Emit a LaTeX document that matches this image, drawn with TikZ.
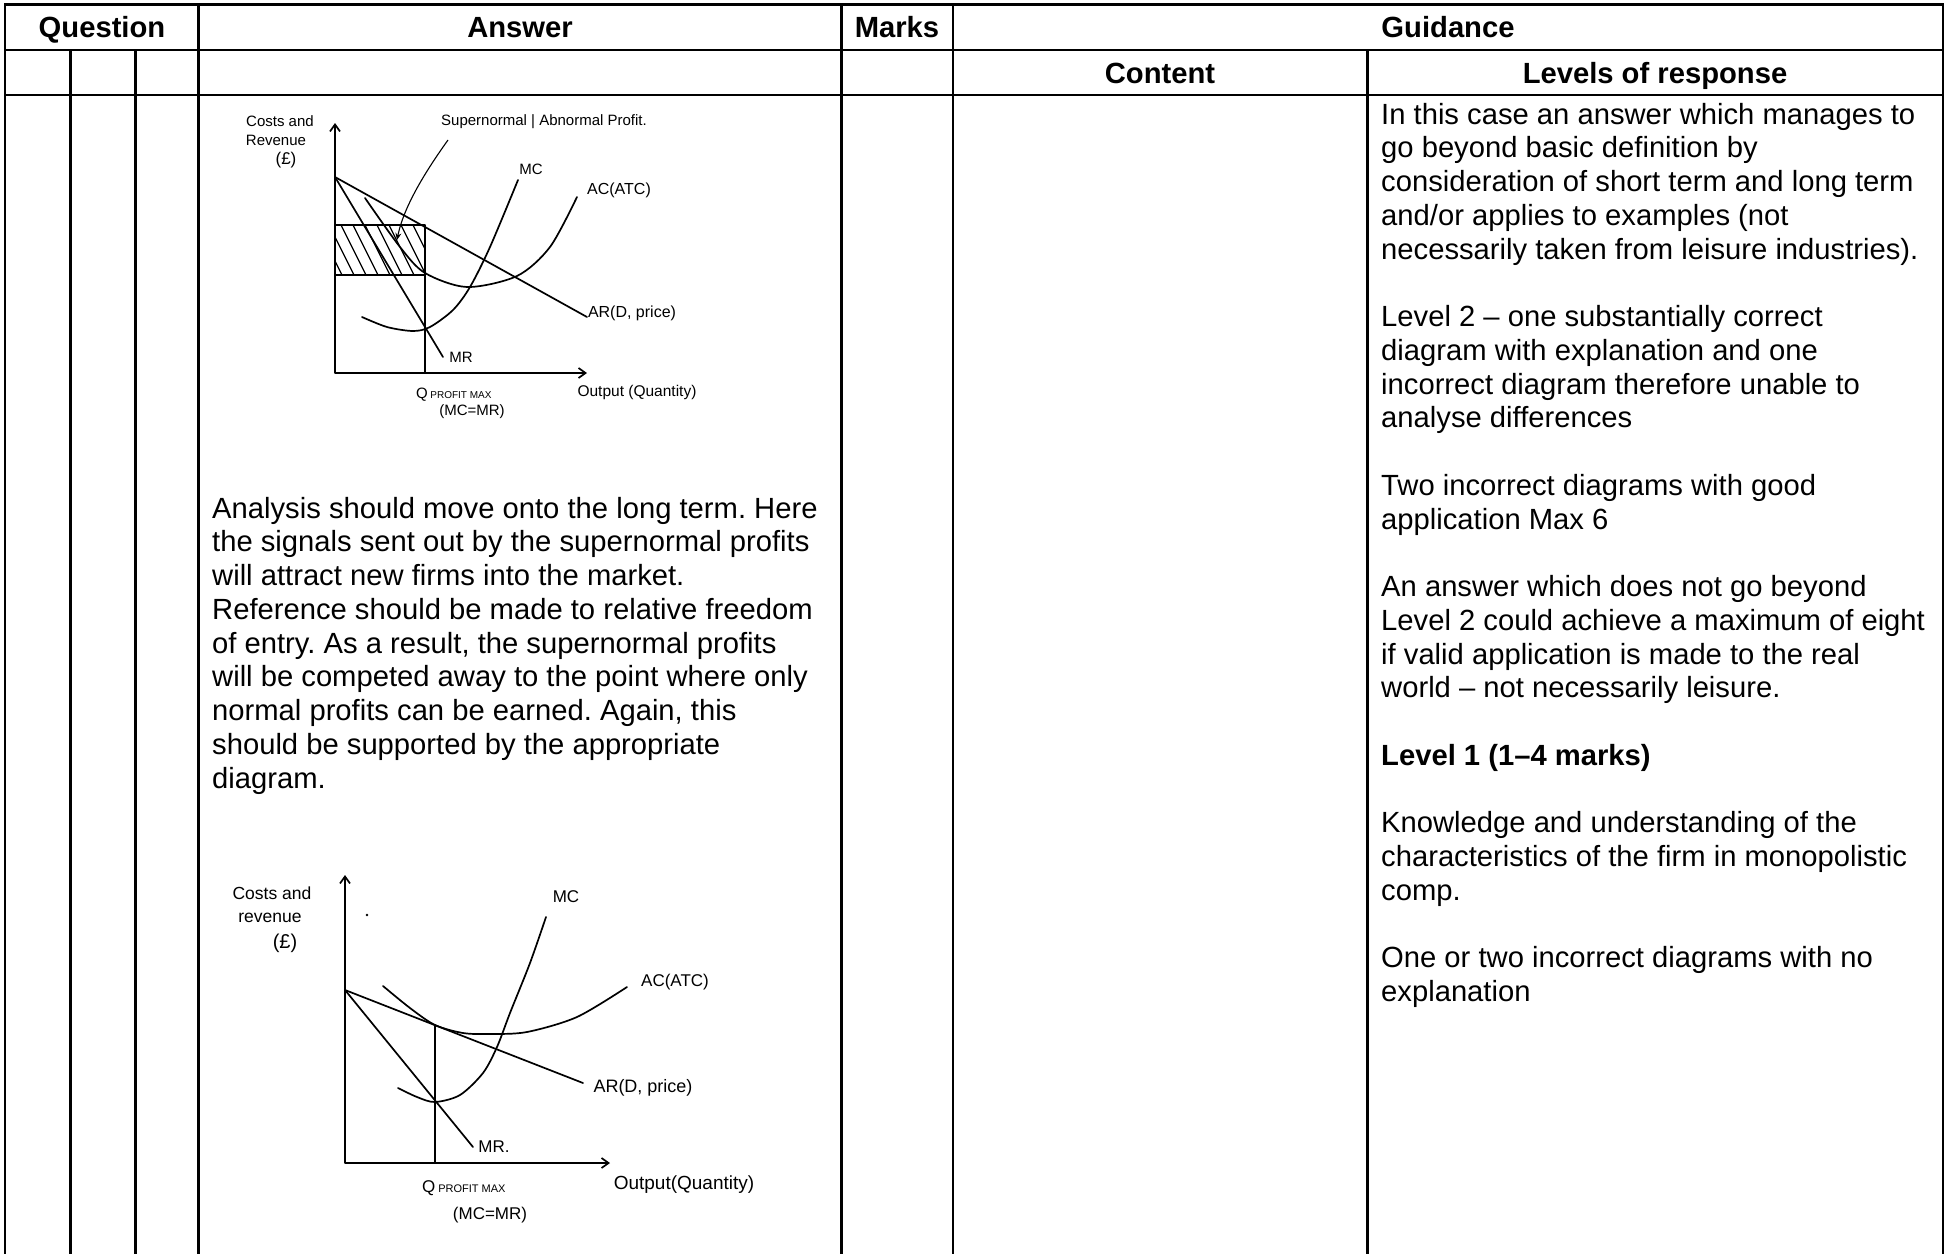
\documentclass[tikz,border=0pt]{standalone}
\usepackage{fontspec}
\setmainfont{Liberation Sans}
\usetikzlibrary{arrows.meta}
\frenchspacing
\begin{document}
\begin{tikzpicture}[x=1pt,y=-1pt,
  grid/.style={line width=2.6pt},
  hdr/.style={font=\fontsize{29.2pt}{33.75pt}\selectfont\bfseries, inner sep=0, anchor=base},
  body/.style={inner sep=0, anchor=base west},
  curve/.style={line width=1.7pt, line cap=round, line join=round},
  axes/.style={curve, {Straight Barb[length=7pt,width=10pt]}-{Straight Barb[length=7pt,width=10pt]}},
  hand/.style={inner sep=0, font=\fontsize{#1}{#1}\selectfont},
  hand/.default=15pt,
]
\useasboundingbox (0,0) rectangle (1946,1253);
% ---------------- table grid ----------------
\draw[grid] (5,1260) -- (5,4.5) -- (1943,4.5) -- (1943,1260);
\draw[grid] (5,50) -- (1943,50);
\draw[grid] (5,95) -- (1943,95);
\draw[grid] (70.7,50) -- (70.7,1260);
\draw[grid] (135.3,50) -- (135.3,1260);
\draw[grid] (198.6,4.5) -- (198.6,1260);
\draw[grid] (841.4,4.5) -- (841.4,1260);
\draw[grid] (953.1,4.5) -- (953.1,1260);
\draw[grid] (1367.6,50) -- (1367.6,1260);
% ---------------- headers ----------------
\node[hdr] (hq) at (102,37) {Question};
\node[hdr] (ha) at (520,37) {Answer};
\node[hdr] (hm) at (897,37) {Marks};
\node[hdr] (hg) at (1448,37) {Guidance};
\node[hdr] (hc) at (1160,83) {Content};
\node[hdr] (hl) at (1655,83) {Levels of response};
% ---------------- answer text ----------------
\node[body] (ans) at (212,518) {\parbox[t]{620pt}{\fontsize{29.2pt}{33.75pt}\selectfont
Analysis should move onto the long term. Here\\
the signals sent out by the supernormal profits\\
will attract new firms into the market.\\
Reference should be made to relative freedom\\
of entry. As a result, the supernormal profits\\
will be competed away to the point where only\\
normal profits can be earned. Again, this\\
should be supported by the appropriate\\
diagram.}};
% ---------------- levels of response ----------------
\node[body] (lvl) at (1381,124) {\parbox[t]{560pt}{\fontsize{29.2pt}{33.75pt}\selectfont
In this case an answer which manages to\\
go beyond basic definition by\\
consideration of short term and long term\\
and/or applies to examples (not\\
necessarily taken from leisure industries).\\[33.75pt]
Level 2 – one substantially correct\\
diagram with explanation and one\\
incorrect diagram therefore unable to\\
analyse differences\\[33.75pt]
Two incorrect diagrams with good\\
application Max 6\\[33.75pt]
An answer which does not go beyond\\
Level 2 could achieve a maximum of eight\\
if valid application is made to the real\\
world – not necessarily leisure.\\[33.75pt]
\textbf{Level 1 (1–4 marks)}\\[33.75pt]
Knowledge and understanding of the\\
characteristics of the firm in monopolistic\\
comp.\\[33.75pt]
One or two incorrect diagrams with no\\
explanation}};
% ---------------- diagram 1 (short run) ----------------
\begin{scope}
\clip (335,225) rectangle (425,275);
\foreach \x in {305,317,...,425} \draw[line width=1.2pt] (\x,225) -- ++(25,50);
\end{scope}
\draw[curve] (335,225) rectangle (425,275);
\draw[curve] (425,275) -- (425,373);
\draw[axes] (335,123) -- (335,373) -- (587,373);
\draw[curve] (335,177) -- (587,317);
\draw[curve] (335,177) -- (443,357);
\draw[curve] plot[smooth] coordinates {(365,198) (400,247) (425,273) (467,287) (517,276) (550,247) (577,197)};
\draw[curve] plot[smooth] coordinates {(362,317) (387,327) (413,331) (430,327) (453,310) (470,287) (490,247) (518,180)};
\node[hand] (c1a) at (280,121) {Costs and};
\node[hand] (c1b) at (276,140) {Revenue};
\node[hand=17pt] (c1c) at (286,160) {(£)};
\node[hand=15pt] (snp) at (544,122) {Supernormal | Abnormal Profit.};
\draw[line width=1.1pt, -{Stealth[length=7pt,width=6pt]}] (448,140) .. controls (428,168) and (404,205) .. (397,240);
\node[hand] (mc1) at (531,169) {MC};
\node[hand=16pt] (ac1) at (619,190) {AC(ATC)};
\node[hand=16pt] (ar1) at (632,313) {AR(D, price)};
\node[hand] (mr1) at (461,357) {MR};
\node[hand, anchor=west] (q1) at (416,395) {Q\,{\fontsize{10pt}{11pt}\selectfont PROFIT MAX}};
\node[hand] (e1) at (472,412) {(MC=MR)};
\node[hand=15.5pt] (o1) at (637,392) {Output (Quantity)};
% ---------------- diagram 2 (long run) ----------------
\draw[axes] (345,875) -- (345,1163) -- (610,1163);
\draw[curve] (435,1025) -- (435,1163);
\draw[curve] (345,990) -- (583,1083);
\draw[curve] (345,990) -- (473,1147);
\draw[curve] plot[smooth] coordinates {(383,986) (410,1008) (435,1025) (463,1033) (490,1034) (527,1032) (577,1017) (627,987)};
\draw[curve] plot[smooth] coordinates {(398,1088) (417,1097) (435,1102) (460,1095) (483,1073) (497,1047) (510,1013) (530,963) (546,917)};
\fill (367,915) circle (1.3);
\node[hand=17.5pt] (c2a) at (272,893) {Costs and};
\node[hand=17.5pt] (c2b) at (270,918) {revenue};
\node[hand=20pt] (c2c) at (285,943) {(£)};
\node[hand=17pt] (mc2) at (566,897) {MC};
\node[hand=17pt] (ac2) at (675,982) {AC(ATC)};
\node[hand=18pt] (ar2) at (643,1088) {AR(D, price)};
\node[hand=17pt] (mr2) at (494,1147) {MR.};
\node[hand=17pt, anchor=west] (q2) at (422,1188) {Q\,{\fontsize{11pt}{12pt}\selectfont PROFIT MAX}};
\node[hand=17pt] (e2) at (490,1215) {(MC=MR)};
\node[hand=19pt] (o2) at (684,1185) {Output(Quantity)};
\end{tikzpicture}
\end{document}
